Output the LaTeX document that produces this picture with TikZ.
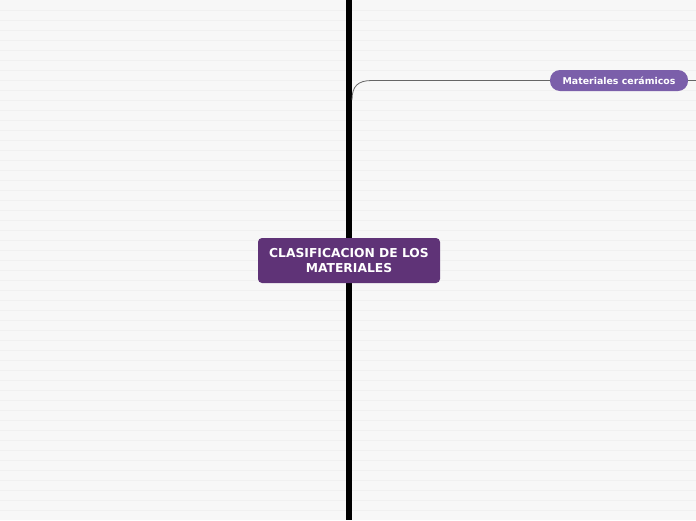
\documentclass[tikz,border=0pt]{standalone}
\usepackage{fontspec}
\setmainfont{DejaVu Sans}
\definecolor{bg}{HTML}{F7F7F7}
\definecolor{bgline}{HTML}{F0F0F0}
\definecolor{central}{HTML}{5F3377}
\definecolor{sub}{HTML}{7B5FAA}
\definecolor{conn}{HTML}{666666}
\begin{document}
\begin{tikzpicture}[x=1pt,y=-1pt,
  centralbox/.style={fill=central,rounded corners=4pt,text=white,font=\bfseries\fontsize{12.3}{14.5}\selectfont,align=center,minimum width=182pt,minimum height=45pt,inner sep=0pt},
  subbox/.style={fill=sub,rounded corners=10pt,text=white,font=\bfseries\fontsize{9.4}{11}\selectfont,minimum width=138pt,minimum height=21pt,inner sep=0pt},
  connector/.style={draw=conn,line width=0.8pt}]
\useasboundingbox (0,0) rectangle (696,520);
\fill[bg] (0,0) rectangle (696,520);
\foreach \yy in {10,20,...,510} {\draw[bgline,line width=0.8pt] (0,\yy) -- (696,\yy);}
\coordinate (top) at (349,0);
\coordinate (bot) at (349,520);
\draw[black,line width=6pt] (top) -- (bot);
\node[centralbox] (c) at (349,260.5) {CLASIFICACION DE LOS\\MATERIALES};
\node[subbox] (m) at (619,80.5) {Materiales cerámicos};
\coordinate (s) at (352,100);
\coordinate (e) at (696,80.5);
\draw[connector] (s) .. controls (352,86) and (358,80.5) .. (372,80.5) -- (m.west);
\draw[connector] (m.east) -- (e);
\end{tikzpicture}
\end{document}
